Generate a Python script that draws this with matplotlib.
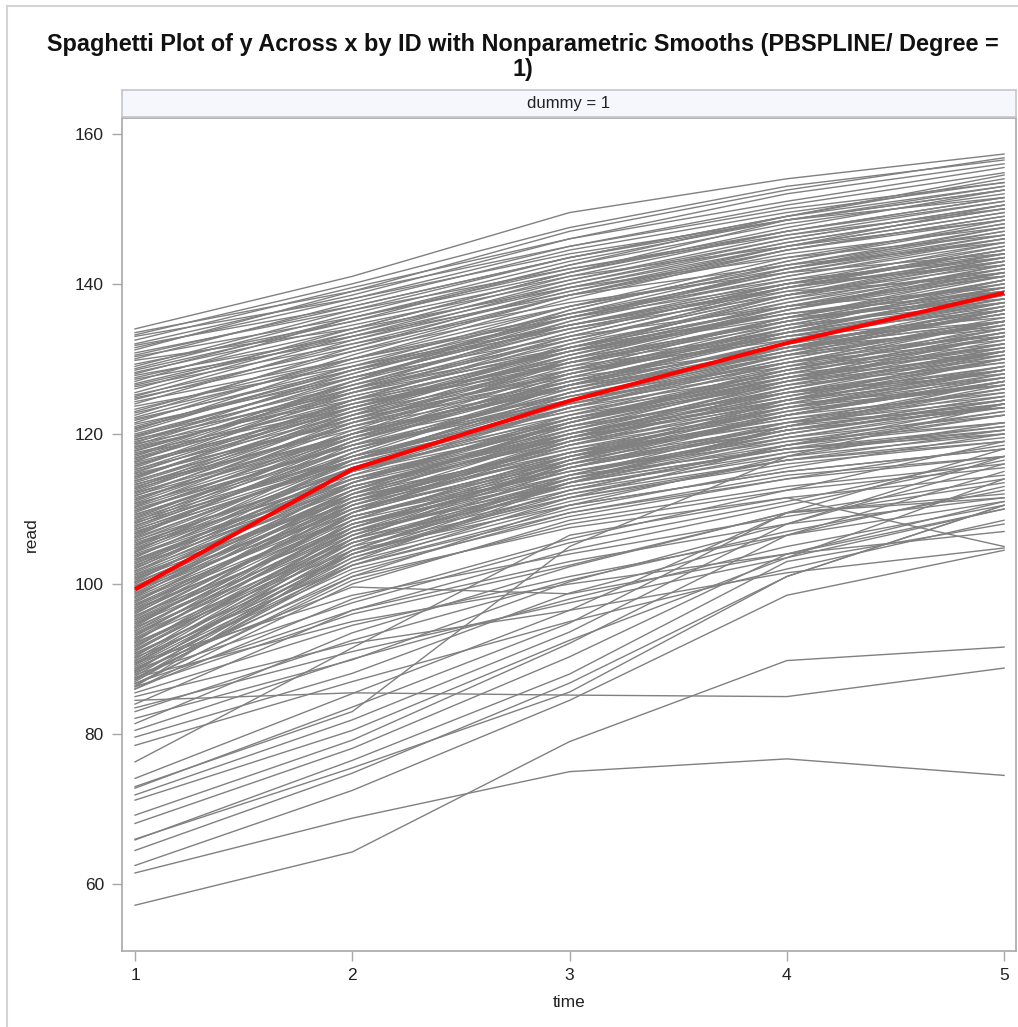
import matplotlib
matplotlib.use("Agg")
import matplotlib.pyplot as plt
from matplotlib.lines import Line2D

plt.rcParams['font.family'] = ['Liberation Sans', 'DejaVu Sans']

# ---------------- data ----------------
time_points = [1, 2, 3, 4, 5]
x_ticks = [1, 2, 3, 4, 5]
y_ticks = [60, 80, 100, 120, 140, 160]

# PBSPLINE smooth (red)
smooth_read = [99.3, 115.3, 124.4, 132.1, 138.8]

# individual subject trajectories (read at time 1..5)
subjects_upper_a = [
    [134.0, 141.0, 149.5, 154.0, 157.3], [133.2, 140.0, 147.5, 153.0, 156.5],
    [132.5, 139.5, 146.0, 151.0, 155.5], [131.5, 138.0, 145.0, 150.5, 154.8],
    [130.8, 136.5, 142.0, 146.5, 150.0], [130.0, 137.5, 144.5, 149.5, 153.5],
    [129.3, 135.0, 141.0, 145.0, 148.5], [128.7, 136.0, 143.0, 148.5, 152.5],
    [128.2, 134.5, 140.5, 146.0, 150.5], [127.8, 133.0, 138.5, 142.5, 145.5],
    [127.0, 135.5, 142.5, 148.0, 152.0], [126.3, 132.0, 137.5, 141.5, 144.0],
    [125.5, 133.5, 141.0, 147.0, 151.5], [124.8, 131.0, 137.0, 142.0, 146.0],
    [124.0, 132.5, 140.0, 146.0, 150.5], [123.3, 130.0, 136.0, 140.5, 143.5],
    [122.5, 131.5, 139.5, 145.5, 150.0], [121.8, 129.0, 135.5, 141.0, 145.5],
    [121.0, 128.5, 134.0, 138.5, 141.5], [120.5, 130.0, 138.0, 144.5, 149.0],
    [120.0, 127.5, 133.0, 137.0, 139.5], [119.5, 128.0, 136.0, 142.5, 147.5],
    [119.0, 126.0, 131.5, 136.0, 139.0], [118.5, 127.5, 135.0, 141.0, 146.0],
    [118.0, 125.5, 132.0, 137.5, 142.0], [117.5, 124.0, 129.0, 133.0, 135.5],
    [117.0, 126.5, 134.5, 140.5, 145.0], [116.5, 125.0, 131.5, 137.0, 141.0],
    [116.0, 123.0, 128.5, 132.5, 135.0], [115.5, 125.5, 133.5, 140.0, 145.5],
    [115.0, 123.5, 130.0, 135.0, 139.0], [114.5, 122.0, 127.5, 131.5, 134.0],
    [114.0, 124.5, 133.0, 139.5, 144.5], [113.5, 122.5, 129.5, 135.5, 140.0],
    [113.0, 121.0, 126.5, 130.5, 133.0], [112.5, 123.0, 131.5, 138.0, 143.5],
    [112.0, 121.5, 128.5, 134.0, 138.5], [111.5, 119.5, 125.0, 129.5, 132.5],
    [111.0, 122.0, 130.5, 137.5, 143.0], [110.5, 120.0, 127.0, 133.0, 137.5],
    [110.0, 118.5, 124.0, 128.5, 131.5], [109.5, 120.5, 129.5, 136.5, 142.0],
    [109.0, 119.0, 126.5, 132.0, 136.5], [108.5, 117.0, 123.0, 127.5, 130.5],
    [108.0, 119.5, 128.5, 135.5, 141.5], [107.5, 118.0, 125.5, 131.5, 136.0],
    [107.0, 116.0, 122.0, 126.5, 129.5], [106.5, 118.5, 127.5, 134.5, 140.0],
    [106.0, 117.0, 124.5, 130.5, 135.0], [105.5, 115.0, 121.0, 125.5, 128.5],
    [105.0, 117.5, 126.5, 133.5, 139.0], [104.5, 116.0, 123.5, 129.5, 134.0],
    [104.0, 114.0, 120.0, 124.5, 127.5], [103.5, 116.5, 125.5, 132.5, 138.0],
    [103.0, 115.0, 122.5, 128.5, 133.0], [102.5, 113.0, 119.0, 123.5, 126.5],
    [102.0, 115.5, 124.5, 131.5, 137.0], [101.5, 114.0, 121.5, 127.5, 132.0],
    [101.0, 112.0, 118.0, 122.5, 125.5], [100.5, 114.5, 123.5, 130.5, 136.5],
    [100.0, 113.0, 120.5, 126.5, 131.0], [99.5, 111.0, 117.0, 121.5, 124.5],
    [99.0, 113.5, 122.5, 129.5, 135.0], [98.5, 112.0, 119.5, 125.5, 130.0],
    [98.0, 110.0, 116.0, 120.5, 123.5], [97.5, 112.5, 121.5, 128.5, 134.0],
    [97.0, 111.0, 118.5, 124.5, 129.0], [96.5, 109.0, 115.0, 119.5, 122.5],
    [96.0, 111.5, 120.5, 127.5, 133.0], [95.5, 110.0, 117.5, 123.5, 128.0],
    [95.0, 108.0, 114.0, 118.5, 121.5], [94.5, 110.5, 119.5, 126.5, 132.0],
    [94.0, 109.0, 116.5, 122.5, 127.0], [93.5, 107.0, 113.0, 117.5, 120.5],
    [93.0, 109.5, 118.5, 125.5, 131.0], [92.5, 108.0, 115.5, 121.5, 126.0],
    [92.0, 106.0, 112.5, 117.0, 120.0], [91.5, 108.5, 117.5, 124.5, 130.0],
    [91.0, 107.0, 114.5, 120.5, 125.0], [90.5, 105.0, 111.5, 116.0, 119.0],
    [90.0, 106.5, 116.5, 123.5, 129.0], [89.5, 104.5, 113.5, 119.5, 124.0],
    [89.0, 103.0, 110.5, 115.0, 118.0], [88.5, 105.0, 115.5, 122.5, 128.0],
    [88.0, 103.5, 112.5, 118.5, 123.0], [87.5, 101.5, 109.5, 114.0, 117.0],
    [87.0, 103.0, 113.5, 121.0, 126.5], [86.5, 101.0, 110.5, 117.0, 121.5],
    [86.0, 100.0, 108.5, 113.0, 116.0],
]

subjects_upper_b = [
    [133.5, 139.0, 145.0, 150.0, 153.5], [132.0, 138.5, 146.0, 152.0, 156.0],
    [130.3, 135.5, 141.5, 147.0, 151.5], [129.0, 136.5, 143.5, 149.0, 154.0],
    [127.3, 132.5, 139.0, 144.5, 149.0], [126.0, 134.0, 141.5, 148.5, 153.0],
    [124.3, 130.0, 135.5, 140.0, 142.5], [123.0, 131.0, 138.5, 144.5, 148.5],
    [121.3, 127.5, 134.5, 140.0, 144.0], [120.3, 129.0, 137.0, 143.5, 148.0],
    [119.3, 125.5, 131.0, 135.5, 138.0], [118.3, 126.5, 134.0, 139.5, 143.5],
    [117.3, 123.5, 130.5, 136.0, 139.0], [116.3, 127.0, 136.5, 143.0, 148.5],
    [115.3, 122.5, 128.0, 133.5, 137.5], [114.3, 124.0, 131.5, 138.0, 142.0],
    [113.3, 120.5, 126.0, 131.0, 134.5], [112.3, 122.5, 132.0, 139.5, 145.0],
    [111.3, 120.0, 127.0, 133.5, 138.0], [110.3, 121.5, 129.5, 135.0, 140.5],
    [109.3, 118.0, 124.5, 129.5, 133.5], [108.3, 120.0, 130.0, 137.0, 142.5],
    [107.3, 116.5, 123.0, 129.0, 133.5], [106.3, 119.0, 128.0, 134.0, 138.5],
    [105.3, 115.5, 121.5, 127.0, 131.0], [104.3, 117.5, 126.5, 133.5, 139.5],
    [103.3, 114.0, 120.5, 126.0, 130.5], [102.3, 116.5, 125.5, 131.0, 136.0],
    [101.3, 113.0, 120.0, 125.5, 129.5], [100.3, 115.0, 124.5, 131.5, 137.5],
    [99.3, 111.5, 118.5, 124.0, 128.5], [98.3, 113.5, 122.0, 128.0, 133.5],
    [97.3, 110.5, 117.5, 123.0, 127.0], [96.3, 112.0, 121.5, 128.5, 134.5],
    [95.3, 109.0, 116.0, 121.0, 125.5], [94.3, 111.0, 120.0, 127.0, 132.5],
    [93.3, 108.0, 115.5, 120.5, 124.5], [92.3, 109.5, 119.0, 126.0, 131.5],
    [91.3, 106.5, 114.0, 119.5, 123.5], [90.3, 107.5, 117.0, 124.0, 130.0],
    [89.3, 105.5, 113.0, 118.0, 122.5], [88.3, 106.0, 116.0, 123.0, 128.5],
    [87.3, 104.0, 112.0, 117.5, 121.0], [86.3, 104.5, 114.5, 121.5, 127.0],
    [88.8, 102.0, 109.0, 114.0, 118.5], [89.8, 103.5, 111.0, 116.5, 120.5],
    [90.8, 104.0, 112.5, 118.5, 122.5], [91.8, 105.5, 113.5, 118.0, 121.0],
    [92.8, 107.5, 116.5, 122.5, 127.5], [93.8, 106.5, 114.5, 120.0, 124.0],
    [94.8, 108.5, 117.0, 123.5, 128.5], [95.8, 107.5, 115.0, 120.0, 124.5],
    [96.8, 110.5, 119.0, 125.0, 130.0], [97.8, 109.5, 117.0, 122.0, 126.0],
    [98.8, 112.5, 121.0, 127.0, 132.0], [99.8, 111.0, 118.0, 123.5, 127.5],
    [100.8, 113.5, 122.0, 128.5, 134.0], [101.8, 112.5, 119.5, 124.5, 128.5],
    [102.8, 115.0, 123.5, 130.0, 135.5], [103.8, 113.5, 120.0, 125.0, 129.0],
    [104.8, 116.5, 125.0, 131.0, 136.5], [105.8, 115.0, 122.0, 127.5, 131.5],
    [106.8, 118.0, 126.5, 133.0, 138.0], [107.8, 117.0, 123.5, 128.0, 131.0],
    [108.8, 119.5, 127.5, 134.0, 139.0], [109.8, 118.5, 125.5, 131.5, 136.0],
    [110.8, 121.0, 129.0, 135.5, 140.5], [111.8, 120.0, 126.5, 132.0, 136.0],
    [112.8, 123.5, 131.0, 137.0, 141.5], [113.8, 122.0, 128.0, 133.0, 137.0],
    [114.8, 124.5, 132.5, 139.0, 144.0], [115.8, 124.0, 130.0, 135.0, 138.5],
    [116.8, 125.5, 133.0, 139.5, 144.5], [117.8, 126.0, 132.5, 138.5, 143.0],
    [118.8, 128.5, 136.5, 143.0, 148.0], [119.8, 127.5, 134.5, 140.0, 144.5],
    [121.5, 130.5, 138.5, 145.0, 150.5], [122.8, 129.5, 136.0, 141.5, 146.0],
    [125.0, 133.0, 140.5, 146.5, 151.0], [127.5, 134.0, 141.5, 147.5, 152.5],
    [128.5, 135.0, 142.5, 149.0, 154.5], [131.8, 137.0, 143.5, 149.0, 153.0],
]

subjects_upper_c = [
    [133.0, 138.0, 144.0, 148.5, 151.5], [131.2, 139.0, 147.0, 152.5, 156.8],
    [129.8, 134.0, 139.5, 143.5, 146.5], [128.0, 135.5, 142.0, 147.0, 151.0],
    [126.7, 133.5, 140.0, 145.5, 150.0], [125.2, 131.5, 138.5, 144.0, 147.5],
    [123.7, 129.0, 134.5, 139.0, 141.0], [122.2, 130.0, 137.0, 142.5, 147.0],
    [120.8, 128.0, 135.5, 142.0, 146.5], [119.7, 126.5, 132.5, 138.5, 142.5],
    [118.7, 124.5, 129.5, 133.5, 136.5], [117.7, 126.0, 133.5, 140.0, 144.5],
    [116.7, 124.5, 131.0, 136.0, 140.0], [115.7, 126.0, 135.0, 142.0, 147.5],
    [114.7, 121.5, 127.0, 131.5, 135.0], [113.7, 123.0, 130.5, 136.5, 141.5],
    [112.7, 121.0, 128.0, 134.5, 139.5], [111.7, 122.5, 131.0, 138.5, 144.0],
    [110.7, 118.5, 124.5, 129.0, 132.0], [109.7, 120.0, 128.5, 135.5, 141.0],
    [108.7, 118.0, 125.0, 130.5, 134.5], [107.7, 119.0, 128.0, 135.0, 140.5],
    [106.7, 116.5, 124.0, 130.0, 135.0], [105.7, 117.0, 126.5, 134.0, 140.5],
    [104.7, 114.5, 121.0, 125.5, 128.0], [103.7, 115.5, 124.0, 130.5, 136.5],
    [102.7, 114.0, 122.0, 128.0, 133.0], [101.7, 115.0, 124.5, 132.0, 138.5],
    [100.7, 111.5, 118.5, 123.0, 126.5], [99.7, 112.5, 121.0, 127.5, 133.0],
    [98.7, 110.5, 117.5, 122.0, 125.0], [97.7, 112.0, 121.5, 129.0, 135.0],
    [96.7, 108.5, 115.0, 119.0, 121.5], [95.7, 110.0, 119.0, 126.0, 131.0],
    [94.7, 107.0, 113.5, 118.0, 120.5], [93.7, 109.5, 119.5, 127.0, 133.0],
    [92.7, 105.5, 112.0, 116.5, 119.5], [91.7, 107.0, 116.0, 122.5, 127.5],
    [90.7, 104.0, 111.5, 116.5, 119.0], [89.7, 106.0, 116.5, 124.5, 131.0],
    [88.7, 102.5, 110.0, 115.5, 120.0], [87.7, 104.5, 114.0, 120.5, 125.0],
    [86.7, 100.5, 108.0, 112.5, 115.5], [87.2, 102.5, 111.5, 118.5, 124.0],
    [88.2, 101.0, 107.5, 111.5, 114.5], [89.2, 104.0, 113.5, 121.0, 127.0],
    [90.2, 102.5, 109.5, 114.5, 117.0], [91.2, 105.5, 114.0, 120.0, 124.5],
    [92.2, 104.5, 110.5, 115.0, 118.0], [93.2, 106.0, 113.5, 119.0, 123.0],
    [94.2, 107.5, 115.5, 121.0, 126.0], [95.2, 108.0, 114.5, 118.0, 120.0],
    [96.2, 109.5, 117.0, 122.5, 127.0], [97.2, 109.0, 115.5, 120.5, 123.5],
    [98.2, 111.0, 119.0, 125.0, 130.5], [99.2, 110.0, 116.5, 121.0, 124.0],
    [100.2, 112.0, 120.0, 126.0, 131.5], [101.2, 111.5, 117.5, 121.5, 123.5],
    [102.2, 113.5, 121.5, 128.0, 133.5], [103.2, 113.0, 119.5, 124.5, 128.5],
    [104.2, 115.5, 123.5, 129.5, 135.0], [105.2, 114.0, 119.5, 124.0, 126.5],
    [106.2, 116.5, 124.5, 131.0, 137.0], [107.2, 117.5, 126.0, 132.5, 137.5],
    [108.2, 116.5, 122.5, 127.0, 130.0], [109.2, 119.0, 127.0, 133.5, 139.5],
    [110.2, 119.5, 126.5, 132.0, 136.5], [111.2, 121.5, 130.0, 136.5, 142.5],
    [112.2, 120.0, 126.0, 131.5, 135.0], [113.2, 122.0, 129.5, 135.0, 139.5],
    [114.2, 123.5, 131.5, 138.5, 143.5], [115.2, 124.5, 131.0, 136.5, 141.0],
    [116.2, 123.5, 129.5, 134.5, 137.5], [117.2, 127.0, 135.5, 142.0, 147.0],
    [118.2, 125.0, 131.5, 137.0, 141.5], [119.2, 127.0, 134.0, 139.5, 143.0],
    [120.7, 128.5, 135.5, 141.5, 146.5], [122.0, 128.5, 134.5, 139.5, 143.0],
    [124.6, 132.0, 139.0, 145.0, 149.5], [126.5, 133.0, 139.5, 145.0, 149.5],
    [130.5, 137.0, 143.5, 148.5, 152.5],
]

subjects_middle = [
    [80.5, 90.0, 98.0, 105.0, 110.5], [83.0, 92.5, 100.5, 107.0, 112.5],
    [85.5, 94.5, 101.0, 106.5, 111.0], [84.0, 96.5, 104.5, 110.5, 116.5],
    [86.8, 96.5, 103.0, 108.0, 111.5], [78.5, 87.0, 95.0, 102.0, 108.5],
    [83.5, 91.0, 97.5, 103.5, 114.0], [87.5, 95.0, 100.0, 104.0, 107.0],
    [89.5, 98.5, 104.0, 109.0, 113.5], [86.0, 98.0, 106.0, 112.5, 119.0],
]

subjects_lower = [
    [57.2, 64.3, 79.0, 89.8, 91.6], [61.5, 68.8, 75.0, 76.7, 74.5],
    [62.5, 72.5, 84.5, 98.5, 104.5], [64.5, 74.8, 86.8, 101.0, 110.5],
    [65.9, 76.5, 88.0, 103.0, 108.0], [68.1, 78.1, 90.3, 104.0, 111.0],
    [69.2, 79.2, 92.1, 106.5, 115.0], [71.2, 80.5, 92.5, 103.5, 110.0],
    [71.9, 81.9, 93.6, 108.0, 117.0], [72.8, 83.6, 94.8, 109.5, 114.0],
    [74.1, 85.4, 96.5, 109.5, 111.5], [76.3, 91.5, 106.5, 111.5, 105.0],
    [79.6, 88.1, 98.8, 106.5, 113.0], [84.5, 85.5, 85.2, 85.0, 88.8],
    [82.1, 89.9, 100.3, 108.0, 116.0], [88.5, 99.6, 98.7, 104.0, 110.0],
    [81.4, 93.5, 102.3, 109.5, 118.0], [86.3, 96.0, 102.5, 109.5, 112.0],
    [87.9, 97.5, 105.5, 111.0, 117.0], [73.0, 83.0, 105.0, 117.0, 124.0],
    [66.0, 75.5, 85.6, 101.0, 110.5], [85.0, 92.1, 96.5, 101.5, 104.8],
]

# ---------------- figure ----------------
W, H = 1018, 1027
fig = plt.figure(figsize=(W / 100, H / 100), dpi=100)

def fx(px):
    return px / W

def fy(py):
    return 1 - py / H

ax_left, ax_right, ax_top, ax_bottom = 122, 1016, 118, 951
ax = fig.add_axes([fx(ax_left), fy(ax_bottom), fx(ax_right) - fx(ax_left), fy(ax_top) - fy(ax_bottom)])

gray = '#808080'
for group in (subjects_upper_a, subjects_upper_b, subjects_upper_c, subjects_middle, subjects_lower):
    for s in group:
        ax.plot(time_points, s, color=gray, lw=1.0, solid_joinstyle='round', zorder=2)

ax.plot(time_points, smooth_read, color='#FF0000', lw=3.0, zorder=3, solid_capstyle='butt')

ax.set_xlim(0.94, 5.055)
ax.set_ylim(51.1, 162.1)
ax.set_xticks(x_ticks)
ax.set_yticks(y_ticks)
ax.set_xticklabels([str(v) for v in x_ticks])
ax.set_yticklabels([str(v) for v in y_ticks])

spine_col = '#A8A8AC'
for sp in ax.spines.values():
    sp.set_color(spine_col)
    sp.set_linewidth(1.2)
ax.tick_params(axis='both', direction='out', length=7, width=1.0, color=spine_col,
               labelsize=12.5, labelcolor='#222222')
ax.tick_params(axis='y', pad=6)
ax.tick_params(axis='x', pad=5)

ax.set_xlabel('time', fontsize=12.5, color='#222222', labelpad=9)
ax.set_ylabel('read', fontsize=12.5, color='#222222', labelpad=26)

# strip header
sax = fig.add_axes([fx(ax_left), fy(117), fx(ax_right) - fx(ax_left), fy(90) - fy(117)])
sax.set_facecolor('#F5F7FD')
sax.set_xticks([])
sax.set_yticks([])
for sp in sax.spines.values():
    sp.set_color('#C4C6CA')
    sp.set_linewidth(1.2)
sax.text(0.5, 0.5, 'dummy = 1', ha='center', va='center', fontsize=12, color='#222222',
         transform=sax.transAxes)

# title
fig.text(fx(523), fy(57), 'Spaghetti Plot of y Across x by ID with Nonparametric Smooths (PBSPLINE/ Degree =\n1)',
         ha='center', va='center', fontsize=16.9, fontweight='bold', color='#111111',
         linespacing=1.1)

# outer border (top and left)
fig.add_artist(Line2D([fx(7), 1], [fy(6), fy(6)], color='#D4D4D4', lw=1.5))
fig.add_artist(Line2D([fx(7), fx(7)], [fy(6), 0], color='#D4D4D4', lw=1.5))

fig.savefig('out.png', dpi=100)
